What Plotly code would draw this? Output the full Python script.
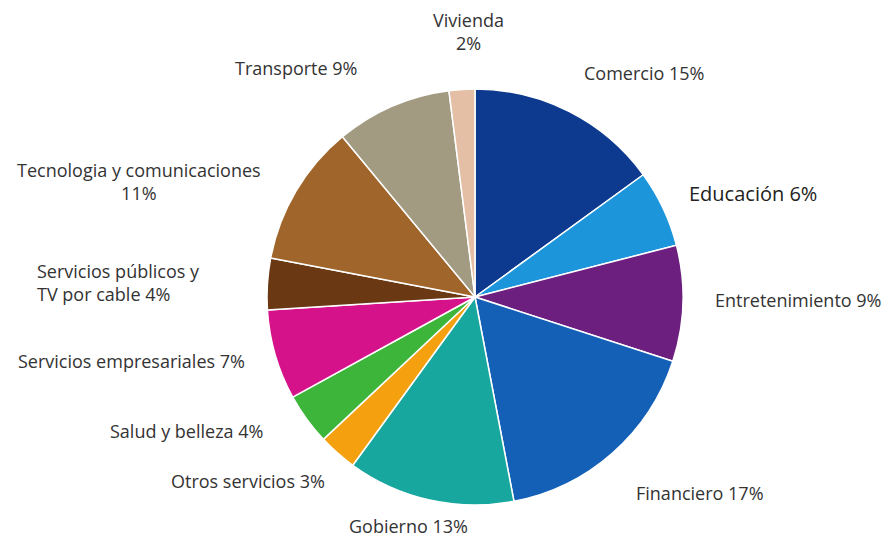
import plotly.graph_objects as go

# Sector shares (%) in clockwise order starting at 12 o'clock
sectors = [
    "Comercio", "Educación", "Entretenimiento", "Financiero", "Gobierno",
    "Otros servicios", "Salud y belleza", "Servicios empresariales",
    "Servicios públicos y TV por cable", "Tecnologia y comunicaciones",
    "Transporte", "Vivienda",
]
shares = [15, 6, 9, 17, 13, 3, 4, 7, 4, 11, 9, 2]

# Label text templates (line breaks where the label wraps)
label_templates = [
    "Comercio {}%", "Educación {}%", "Entretenimiento {}%", "Financiero {}%",
    "Gobierno {}%", "Otros servicios {}%", "Salud y belleza {}%",
    "Servicios empresariales {}%", "Servicios públicos y<br>TV por cable {}%",
    "Tecnologia y comunicaciones<br>{}%", "Transporte {}%", "Vivienda<br>{}%",
]

colors = [
    "#0D3A8E", "#1C95DB", "#6C1F7E", "#1560B7", "#17A79E", "#F4A00F",
    "#3DB43A", "#D5128A", "#6A3913", "#A0652A", "#A29B82", "#E4BFA6",
]

W, H = 889, 541
cx, cy, r = 475, 297, 208

# Label anchor points (pixel centres) and alignment
label_pos = [
    (644, 73, "center"), (753, 193, "center"), (798, 300, "center"),
    (700, 493, "center"), (408, 526, "center"), (248, 481, "center"),
    (186, 431, "center"), (131, 361, "center"), (35, 282, "left"),
    (139, 181, "center"), (296, 68, "center"), (468, 32, "center"),
]

fig = go.Figure(go.Pie(
    labels=sectors,
    values=shares,
    sort=False,
    direction="clockwise",
    rotation=0,
    marker=dict(colors=colors, line=dict(color="white", width=1.5)),
    textinfo="none",
    hoverinfo="label+percent",
    domain=dict(x=[(cx - r) / W, (cx + r) / W],
                y=[(H - cy - r) / H, (H - cy + r) / H]),
    showlegend=False,
))

for name, val, tpl, (px, py, align) in zip(sectors, shares, label_templates, label_pos):
    big = name == "Educación"
    fig.add_annotation(
        x=px / W, y=1 - py / H, xref="paper", yref="paper",
        text=tpl.format(val), showarrow=False,
        xanchor="left" if align == "left" else "center",
        yanchor="middle", align=align,
        font=dict(family="Open Sans", size=20 if big else 18,
                  color="#222222" if big else "#333333"),
    )

fig.update_layout(
    width=W, height=H,
    margin=dict(l=0, r=0, t=0, b=0),
    paper_bgcolor="white", plot_bgcolor="white",
)

fig.write_html("out.html")
